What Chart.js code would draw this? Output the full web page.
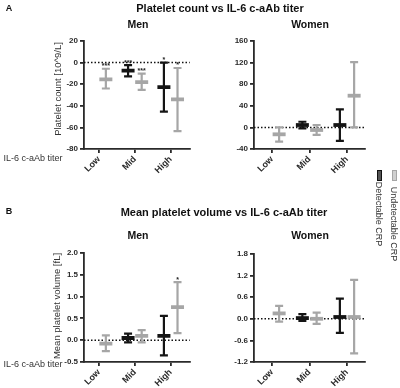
<!DOCTYPE html>
<html>
<head>
<meta charset="utf-8">
<script src="https://cdn.jsdelivr.net/npm/chart.js@4.4.1/dist/chart.umd.min.js"></script>
<style>
  html,body{margin:0;padding:0;background:#fff;}
  #wrap{position:relative;width:400px;height:388px;overflow:hidden;background:#fff;font-family:"Liberation Sans",Arial,sans-serif;}
  canvas{position:absolute;}
  .t{position:absolute;white-space:nowrap;transform:translate(-50%,-50%);color:#111;line-height:1;}
  .b{font-weight:bold;}
  .rl{transform:translate(-50%,-50%) rotate(-90deg);}
  .rr{transform:translate(-50%,-50%) rotate(90deg);}
  .box{position:absolute;width:3px;height:9px;border:1px solid;}
</style>
</head>
<body>
<div id="wrap">
  <canvas id="cA1" width="200" height="190" style="left:0;top:0"></canvas>
  <canvas id="cA2" width="200" height="190" style="left:200px;top:0"></canvas>
  <canvas id="cB1" width="200" height="198" style="left:0;top:190px"></canvas>
  <canvas id="cB2" width="200" height="198" style="left:200px;top:190px"></canvas>

  <div class="t b" style="left:9px;top:8px;font-size:9px;">A</div>
  <div class="t b" id="titleA" style="left:220px;top:8px;font-size:11px;"></div>
  <div class="t b" style="left:138px;top:24px;font-size:10.5px;">Men</div>
  <div class="t b" style="left:310px;top:24px;font-size:10.5px;">Women</div>
  <div class="t rl" id="ytA" style="left:58px;top:89px;font-size:9.5px;color:#333;"></div>
  <div class="t" id="xtA" style="left:33px;top:158px;font-size:9px;color:#333;"></div>

  <div class="t b" style="left:9px;top:211px;font-size:9px;">B</div>
  <div class="t b" id="titleB" style="left:224px;top:212px;font-size:11px;"></div>
  <div class="t b" style="left:138px;top:235px;font-size:10.5px;">Men</div>
  <div class="t b" style="left:310px;top:235px;font-size:10.5px;">Women</div>
  <div class="t rl" id="ytB" style="left:57px;top:306px;font-size:9.5px;color:#333;"></div>
  <div class="t" id="xtB" style="left:33px;top:364px;font-size:9px;color:#333;"></div>

  <div class="box" style="left:377px;top:170px;border-color:#111;background:#555;"></div>
  <div class="box" style="left:392px;top:170px;border-color:#a6a6a6;background:#d0d0d0;"></div>
  <div class="t rr" id="lg1" style="left:378px;top:214px;font-size:9px;color:#333;"></div>
  <div class="t rr" id="lg2" style="left:393px;top:224px;font-size:9px;color:#333;"></div>
</div>
<script>
// ---------- data ----------
const categories = ['Low', 'Mid', 'High'];
const seriesNames = ['Detectable CRP', 'Undetectable CRP'];

// A: Platelet count, Men
const countMenDetMean  = [null, -7.5, -22.7];
const countMenDetLower = [null, -12.8, -45.4];
const countMenDetUpper = [null, -2.3, 0];
const countMenDetStars = ['', '***', '*'];
const countMenUndMean  = [-15.5, -18, -34];
const countMenUndLower = [-24, -25.2, -63.5];
const countMenUndUpper = [-5.7, -10.3, -5];
const countMenUndStars = ['***', '***', '*'];

// A: Platelet count, Women
const countWomenDetMean  = [null, 4.4, 4.4];
const countWomenDetLower = [null, -1.7, -25];
const countWomenDetUpper = [null, 10.5, 33.5];
const countWomenUndMean  = [-12.8, -4.8, 58.7];
const countWomenUndLower = [-26.5, -14, 0];
const countWomenUndUpper = [0, 4.4, 121];

// B: Mean platelet volume, Men
const mpvMenDetMean  = [null, 0.05, 0.1];
const mpvMenDetLower = [null, -0.05, -0.35];
const mpvMenDetUpper = [null, 0.15, 0.56];
const mpvMenUndMean  = [-0.08, 0.1, 0.76];
const mpvMenUndLower = [-0.25, -0.05, 0.16];
const mpvMenUndUpper = [0.11, 0.23, 1.33];
const mpvMenUndStars = ['', '', '*'];

// B: Mean platelet volume, Women
const mpvWomenDetMean  = [null, 0.02, 0.05];
const mpvWomenDetLower = [null, -0.06, -0.39];
const mpvWomenDetUpper = [null, 0.13, 0.56];
const mpvWomenUndMean  = [0.15, 0, 0.05];
const mpvWomenUndLower = [-0.08, -0.14, -0.96];
const mpvWomenUndUpper = [0.36, 0.17, 1.08];

// axis ticks
const countMenTicks   = {min: -80, max: 20, step: 20};
const countWomenTicks = {min: -40, max: 160, step: 40};
const mpvMenTicks     = {min: -0.5, max: 2.0, step: 0.5};
const mpvWomenTicks   = {min: -1.2, max: 1.8, step: 0.6};

// texts
document.getElementById('titleA').textContent = 'Platelet count vs IL-6 c-aAb titer';
document.getElementById('titleB').textContent = 'Mean platelet volume vs IL-6 c-aAb titer';
document.getElementById('ytA').textContent = 'Platelet count [10^9/L]';
document.getElementById('ytB').textContent = 'Mean platelet volume [fL]';
document.getElementById('xtA').textContent = 'IL-6 c-aAb titer';
document.getElementById('xtB').textContent = 'IL-6 c-aAb titer';
document.getElementById('lg1').textContent = seriesNames[0];
document.getElementById('lg2').textContent = seriesNames[1];

const BLACK = '#141414', GRAY = '#a6a6a6', AXIS = '#2a2a2a';

const errPlugin = {
  id: 'errbars',
  beforeDatasetsDraw(chart) {
    const ctx = chart.ctx, xs = chart.scales.x, ys = chart.scales.y, ca = chart.chartArea;
    ctx.save();
    ctx.strokeStyle = '#111';
    ctx.lineWidth = 1.5;
    ctx.setLineDash([1.5, 2]);
    const y0 = ys.getPixelForValue(0);
    ctx.beginPath(); ctx.moveTo(ca.left, y0); ctx.lineTo(ca.right, y0); ctx.stroke();
    ctx.restore();
    chart.data.datasets.forEach(ds => {
      ctx.save();
      ctx.strokeStyle = ds.borderColor;
      ctx.lineWidth = 2.2;
      ds.data.forEach((p, i) => {
        if (p.y === null) return;
        const x = xs.getPixelForValue(p.x);
        const yl = ys.getPixelForValue(ds.lower[i]);
        const yu = ys.getPixelForValue(ds.upper[i]);
        ctx.beginPath();
        ctx.moveTo(x, yl); ctx.lineTo(x, yu);
        ctx.moveTo(x - 4, yl); ctx.lineTo(x + 4, yl);
        ctx.moveTo(x - 4, yu); ctx.lineTo(x + 4, yu);
        ctx.stroke();
      });
      ctx.restore();
    });
  },
  afterDatasetsDraw(chart) {
    const ctx = chart.ctx, xs = chart.scales.x, ys = chart.scales.y;
    ctx.save();
    ctx.fillStyle = '#222';
    ctx.font = 'bold 7px "Liberation Sans", Arial';
    ctx.textAlign = 'center';
    ctx.textBaseline = 'bottom';
    chart.data.datasets.forEach(ds => {
      if (!ds.stars) return;
      ds.data.forEach((p, i) => {
        if (p.y === null || !ds.stars[i]) return;
        const x = xs.getPixelForValue(p.x);
        const yu = ys.getPixelForValue(ds.upper[i]);
        ctx.fillText(ds.stars[i], x, yu + 1);
      });
    });
    ctx.restore();
  }
};

function pts(means, off) {
  return means.map((m, i) => ({x: i + off, y: m}));
}

function makeChart(id, cfg) {
  const datasets = [
    {label: seriesNames[0], data: pts(cfg.det[0], -0.19), lower: cfg.det[1], upper: cfg.det[2], stars: cfg.det[3],
     borderColor: BLACK, backgroundColor: BLACK},
    {label: seriesNames[1], data: pts(cfg.und[0], 0.19), lower: cfg.und[1], upper: cfg.und[2], stars: cfg.und[3],
     borderColor: GRAY, backgroundColor: GRAY}
  ].map(d => Object.assign(d, {pointStyle: 'line', pointRadius: 6.5, pointBorderWidth: 3.8, showLine: false}));

  return new Chart(document.getElementById(id), {
    type: 'scatter',
    data: {datasets},
    options: {
      responsive: false, animation: false, devicePixelRatio: 1,
      layout: {padding: {top: cfg.top, right: cfg.right, left: 0, bottom: 0}},
      plugins: {legend: {display: false}, tooltip: {enabled: false}},
      scales: {
        x: {
          type: 'linear', min: cfg.xmin, max: cfg.xmax,
          afterBuildTicks: s => { s.ticks = [{value: 0}, {value: 1}, {value: 2}]; },
          afterFit: s => { s.height = cfg.xh; },
          ticks: {autoSkip: false, minRotation: 45, maxRotation: 45, padding: 1, color: AXIS,
                  font: {family: '"Liberation Sans", Arial', size: 9, weight: 'bold'},
                  callback: v => categories[v]},
          grid: {drawOnChartArea: false, tickLength: 4, color: AXIS, lineWidth: 1.8},
          border: {color: AXIS, width: 1.8}
        },
        y: {
          min: cfg.yt.min, max: cfg.yt.max,
          afterFit: s => { s.width = cfg.yw; },
          ticks: {stepSize: cfg.yt.step, padding: 2, color: AXIS,
                  font: {family: '"Liberation Sans", Arial', size: 8, weight: 'bold'},
                  callback: v => cfg.dec ? Number(v).toFixed(1) : String(Math.round(v))},
          grid: {drawOnChartArea: false, tickLength: 4, color: AXIS, lineWidth: 1.8},
          border: {color: AXIS, width: 1.8}
        }
      }
    },
    plugins: [errPlugin]
  });
}

makeChart('cA1', {
  det: [countMenDetMean, countMenDetLower, countMenDetUpper, countMenDetStars],
  und: [countMenUndMean, countMenUndLower, countMenUndUpper, countMenUndStars],
  yt: countMenTicks, dec: false, top: 41, right: 4, yw: 84, xh: 41, xmin: -0.42, xmax: 2.53
});
makeChart('cA2', {
  det: [countWomenDetMean, countWomenDetLower, countWomenDetUpper, null],
  und: [countWomenUndMean, countWomenUndLower, countWomenUndUpper, null],
  yt: countWomenTicks, dec: false, top: 41, right: 35, yw: 54, xh: 41, xmin: -0.48, xmax: 2.48
});
makeChart('cB1', {
  det: [mpvMenDetMean, mpvMenDetLower, mpvMenDetUpper, null],
  und: [mpvMenUndMean, mpvMenUndLower, mpvMenUndUpper, mpvMenUndStars],
  yt: mpvMenTicks, dec: true, top: 63, right: 4, yw: 84, xh: 26, xmin: -0.42, xmax: 2.53
});
makeChart('cB2', {
  det: [mpvWomenDetMean, mpvWomenDetLower, mpvWomenDetUpper, null],
  und: [mpvWomenUndMean, mpvWomenUndLower, mpvWomenUndUpper, null],
  yt: mpvWomenTicks, dec: true, top: 64, right: 35, yw: 54, xh: 26, xmin: -0.48, xmax: 2.48
});
</script>
</body>
</html>
